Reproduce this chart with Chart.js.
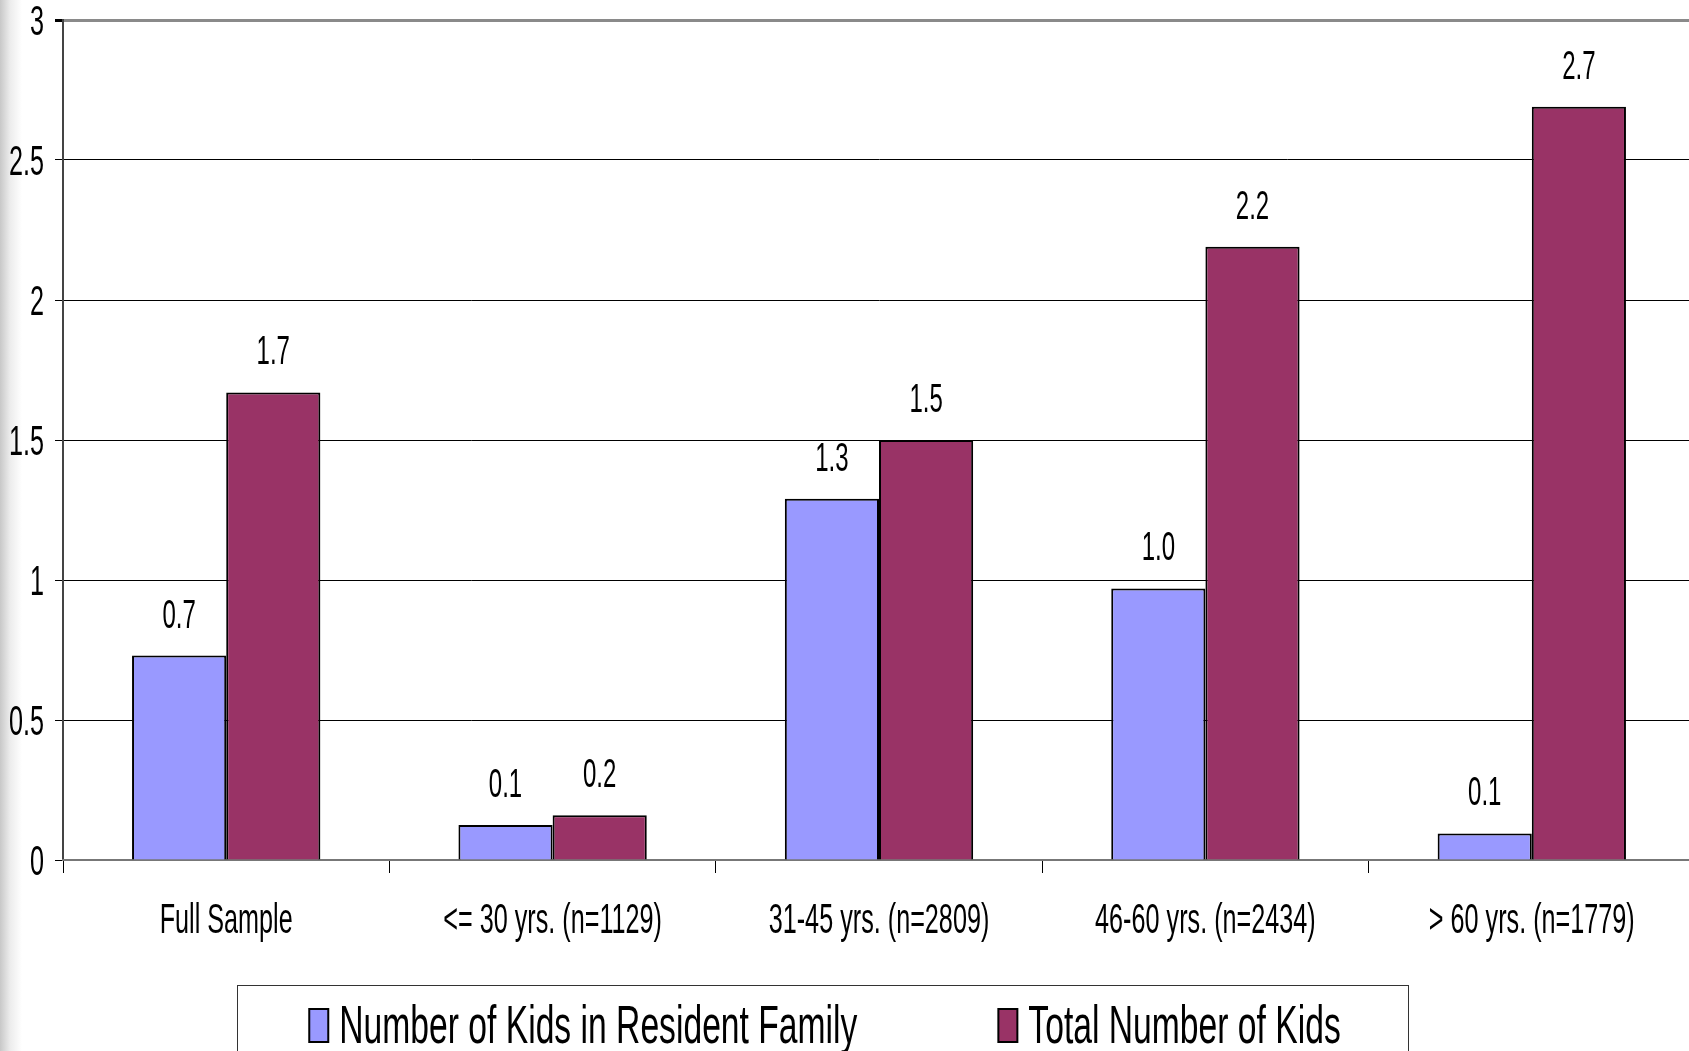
<!DOCTYPE html>
<html>
<head>
<meta charset="utf-8">
<script src="https://cdn.jsdelivr.net/npm/chart.js@4.4.0/dist/chart.umd.min.js"></script>
<style>
    html, body { margin: 0; padding: 0; }
    body {
        width: 1689px;
        height: 1051px;
        overflow: hidden;
        background: linear-gradient(to right, #c8c8c8 0px, #ececec 10px, #ffffff 22px);
    }
    canvas { display: block; }
</style>
</head>
<body>
<!-- a área do gráfico continua um pouco para lá da margem direita, como no original -->
<canvas id="kidsChart" width="1695" height="1051"></canvas>
<script>
const categories = ['Full Sample', '<= 30 yrs. (n=1129)', '31-45 yrs. (n=2809)', '46-60 yrs. (n=2434)', '> 60 yrs. (n=1779)'];
const residentKids = [0.73, 0.125, 1.29, 0.97, 0.095];
const totalKids = [1.67, 0.16, 1.5, 2.19, 2.69];
const residentLabels = ['0.7', '0.1', '1.3', '1.0', '0.1'];
const totalLabels = ['1.7', '0.2', '1.5', '2.2', '2.7'];
const yTicks = [0, 0.5, 1, 1.5, 2, 2.5, 3];

const FONT = "'Liberation Sans', Arial, sans-serif";
const SQUASH = 0.6;   // letra estreita e alta, como no original

// texto estreito: escala horizontal
function narrowText(ctx, text, x, y, size, align, squash = SQUASH) {
    ctx.save();
    ctx.font = size + 'px ' + FONT;
    ctx.fillStyle = '#000';
    ctx.textAlign = align;
    ctx.textBaseline = 'alphabetic';
    ctx.translate(x, y);
    ctx.scale(squash, 1);
    ctx.fillText(text, 0, 0);
    ctx.restore();
}

function narrowWidth(ctx, text, size, squash = SQUASH) {
    ctx.save();
    ctx.font = size + 'px ' + FONT;
    const w = ctx.measureText(text).width * squash;
    ctx.restore();
    return w;
}

// rótulos dos eixos
const axisText = {
    id: 'axisText',
    afterDraw(chart) {
        const ctx = chart.ctx;
        const y = chart.scales.y;
        const x = chart.scales.x;
        yTicks.forEach(v => {
            narrowText(ctx, String(v), 44, y.getPixelForValue(v) + 15, 42, 'right');
        });
        categories.forEach((c, i) => {
            narrowText(ctx, c, x.getPixelForTick(i), 933, 42, 'center');
        });
    }
};

// valores por cima das barras
const valueLabels = {
    id: 'valueLabels',
    afterDatasetsDraw(chart) {
        const ctx = chart.ctx;
        chart.data.datasets.forEach((ds, i) => {
            chart.getDatasetMeta(i).data.forEach((bar, j) => {
                narrowText(ctx, ds.valueText[j], bar.x, bar.y - 28, 40, 'center');
            });
        });
    }
};

// legenda com moldura, por baixo do gráfico
const boxedLegend = {
    id: 'boxedLegend',
    afterDraw(chart) {
        const ctx = chart.ctx;
        const sets = chart.data.datasets;
        const size = 53, sq = 0.635, markW = 19, markH = 33, gap = 11, itemGap = 141;
        const widths = sets.map(ds => markW + gap + narrowWidth(ctx, ds.label, size, sq));
        const total = widths.reduce((a, b) => a + b, 0) + itemGap * (sets.length - 1);
        let x = 825 - total / 2;

        ctx.save();
        ctx.strokeStyle = '#333';
        ctx.lineWidth = 1;
        ctx.strokeRect(237.5, 985.5, 1171, 120);

        sets.forEach((ds, i) => {
            ctx.fillStyle = ds.backgroundColor;
            ctx.fillRect(x, 1009, markW, markH);
            ctx.lineWidth = 2;
            ctx.strokeStyle = '#000';
            ctx.strokeRect(x, 1009, markW, markH);
            narrowText(ctx, ds.label, x + markW + gap, 1043, size, 'left', sq);
            x += widths[i] + itemGap;
        });
        ctx.restore();
    }
};

const chartCtx = document.getElementById('kidsChart').getContext('2d');
new Chart(chartCtx, {
    type: 'bar',
    data: {
        labels: categories,
        datasets: [{
            label: 'Number of Kids in Resident Family',
            data: residentKids,
            valueText: residentLabels,
            backgroundColor: '#9999FF',
            borderColor: '#000',
            borderWidth: 2,
            categoryPercentage: 0.577,
            barPercentage: 1
        }, {
            label: 'Total Number of Kids',
            data: totalKids,
            valueText: totalLabels,
            backgroundColor: '#993366',
            borderColor: '#000',
            borderWidth: 2,
            categoryPercentage: 0.577,
            barPercentage: 1
        }]
    },
    options: {
        responsive: false,
        animation: false,
        layout: { padding: { top: 20, right: 0, left: 0, bottom: 0 } },
        plugins: {
            legend: { display: false },
            tooltip: { enabled: false }
        },
        scales: {
            y: {
                min: 0,
                max: 3,
                afterBuildTicks: scale => { scale.ticks = yTicks.map(v => ({ value: v })); },
                afterFit: scale => { scale.width = 63; },
                ticks: { display: false },
                grid: {
                    color: c => c.tick.value === 3 ? '#8a8a8a' : (c.tick.value === 0 ? '#777' : '#000'),
                    lineWidth: c => c.tick.value === 3 ? 3 : 1,
                    tickColor: '#000',
                    tickLength: 8
                },
                border: { color: '#444', width: 2 }
            },
            x: {
                afterFit: scale => { scale.height = 191; },
                ticks: { display: false },
                grid: {
                    drawOnChartArea: false,
                    color: '#000',
                    tickLength: 13
                },
                border: { color: '#777', width: 2 }
            }
        }
    },
    plugins: [valueLabels, axisText, boxedLegend]
});
</script>
</body>
</html>
